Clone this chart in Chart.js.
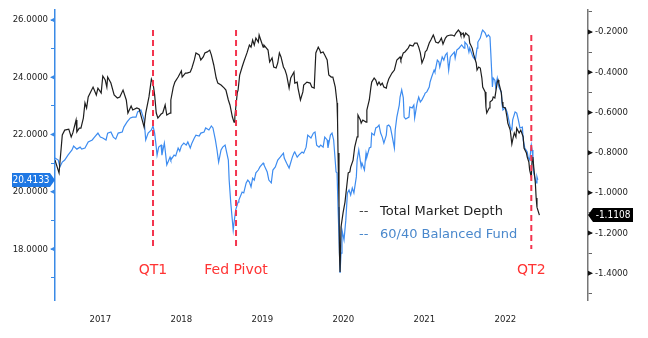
<!DOCTYPE html>
<html>
<head>
<meta charset="utf-8">
<script src="https://cdn.jsdelivr.net/npm/chart.js@4.4.0/dist/chart.umd.min.js"></script>
<style>
  html, body { margin: 0; padding: 0; background: #fff; }
</style>
</head>
<body>
<canvas id="mychart" width="648" height="338"></canvas>
<script>
// Total Market Depth (right axis)
let depthDates = [
  2016.64,2016.69,2016.73,2016.76,2016.81,2016.84,2016.86,2016.90,2016.91,2016.94,
  2016.96,2016.99,2017.01,2017.03,2017.05,2017.08,2017.11,2017.15,2017.17,2017.21,
  2017.23,2017.26,2017.28,2017.29,2017.33,2017.37,2017.41,2017.44,2017.48,2017.52,
  2017.54,2017.58,2017.60,2017.65,2017.68,2017.70,2017.74,2017.76,2017.80,2017.83,
  2017.85,2017.87,2017.89,2017.91,2017.95,2017.97,2018.00,2018.02,2018.06,2018.07,
  2018.10,2018.12,2018.16,2018.20,2018.21,2018.25,2018.27,2018.31,2018.33,2018.36,
  2018.38,2018.42,2018.44,2018.47,2018.49,2018.52,2018.55,2018.57,2018.60,2018.63,
  2018.65,2018.69,2018.73,2018.75,2018.78,2018.80,2018.83,2018.85,2018.86,2018.89,
  2018.90,2018.92,2018.95,2018.97,2019.01,2019.04,2019.06,2019.08,2019.10,2019.12,
  2019.15,2019.16,2019.18,2019.21,2019.22,2019.27,2019.29,2019.32,2019.34,2019.37,
  2019.39,2019.41,2019.43,2019.46,2019.48,2019.50,2019.53,2019.55,2019.59,2019.60,
  2019.63,2019.64,2019.67,2019.70,2019.71,2019.75,2019.79,2019.81,2019.84,2019.86,
  2019.89,2019.91,2019.92,2019.95,2019.97,2020.00,2020.02,2020.05,2020.07,2020.10,
  2020.122,2020.128,2020.134,2020.146,2020.152,2020.159,2020.171,2020.196,2020.22,2020.25,
  2020.26,2020.28,2020.29,2020.32,2020.34,2020.37,2020.38,2020.41,2020.42,2020.44,
  2020.48,2020.49,2020.52,2020.54,2020.55,2020.58,2020.60,2020.62,2020.64,2020.66,
  2020.68,2020.70,2020.73,2020.74,2020.76,2020.80,2020.83,2020.86,2020.90,2020.91,
  2020.94,2020.96,2021.00,2021.02,2021.06,2021.08,2021.11,2021.13,2021.15,2021.17,
  2021.20,2021.21,2021.23,2021.26,2021.28,2021.31,2021.32,2021.34,2021.37,2021.39,
  2021.41,2021.43,2021.46,2021.48,2021.52,2021.54,2021.57,2021.59,2021.62,2021.64,
  2021.65,2021.68,2021.69,2021.71,2021.75,2021.76,2021.79,2021.81,2021.84,2021.85,
  2021.87,2021.89,2021.91,2021.92,2021.95,2021.96,2021.97,2022.00,2022.01,2022.04,
  2022.05,2022.07,2022.10,2022.11,2022.12,2022.15,2022.16,2022.17,2022.20,2022.22,
  2022.23,2022.26,2022.28,2022.29,2022.31,2022.33,2022.34,2022.37,2022.39,2022.42,
  2022.43,2022.46,2022.47,2022.49,2022.50,2022.52,2022.53,2022.54,2022.55,2022.57,
  2022.58,2022.59,2022.62
];
let depthValues = [
  -0.837,-0.901,-0.712,-0.688,-0.683,-0.722,-0.702,-0.638,-0.697,-0.678,
  -0.678,-0.628,-0.553,-0.578,-0.523,-0.498,-0.474,-0.513,-0.479,-0.503,
  -0.419,-0.439,-0.474,-0.424,-0.454,-0.513,-0.528,-0.523,-0.489,-0.538,
  -0.603,-0.568,-0.588,-0.578,-0.583,-0.613,-0.673,-0.603,-0.523,-0.434,
  -0.454,-0.513,-0.603,-0.628,-0.608,-0.603,-0.563,-0.613,-0.603,-0.538,
  -0.474,-0.449,-0.424,-0.394,-0.424,-0.404,-0.404,-0.399,-0.379,-0.339,
  -0.304,-0.314,-0.339,-0.324,-0.304,-0.299,-0.290,-0.314,-0.364,-0.429,
  -0.454,-0.464,-0.479,-0.489,-0.538,-0.563,-0.623,-0.648,-0.623,-0.503,
  -0.489,-0.414,-0.374,-0.349,-0.304,-0.265,-0.275,-0.240,-0.265,-0.230,
  -0.250,-0.215,-0.240,-0.275,-0.265,-0.290,-0.349,-0.329,-0.374,-0.379,
  -0.354,-0.304,-0.324,-0.374,-0.389,-0.414,-0.479,-0.429,-0.399,-0.454,
  -0.449,-0.479,-0.538,-0.498,-0.464,-0.449,-0.454,-0.474,-0.479,-0.304,
  -0.275,-0.290,-0.304,-0.299,-0.314,-0.339,-0.414,-0.424,-0.424,-0.474,
  -0.553,-0.638,-0.802,-1.051,-1.300,-1.394,-1.170,-1.100,-1.046,-0.936,
  -0.901,-0.896,-0.872,-0.837,-0.772,-0.722,-0.613,-0.638,-0.653,-0.638,
  -0.648,-0.588,-0.538,-0.474,-0.449,-0.429,-0.439,-0.464,-0.449,-0.464,
  -0.454,-0.474,-0.479,-0.459,-0.434,-0.404,-0.389,-0.339,-0.324,-0.339,
  -0.304,-0.299,-0.280,-0.265,-0.270,-0.255,-0.255,-0.275,-0.304,-0.354,
  -0.324,-0.299,-0.290,-0.255,-0.240,-0.215,-0.225,-0.250,-0.255,-0.245,
  -0.230,-0.260,-0.230,-0.220,-0.215,-0.215,-0.220,-0.205,-0.190,-0.200,
  -0.215,-0.205,-0.225,-0.205,-0.220,-0.255,-0.280,-0.314,-0.354,-0.389,
  -0.374,-0.379,-0.429,-0.474,-0.498,-0.573,-0.603,-0.578,-0.548,-0.538,
  -0.523,-0.528,-0.449,-0.439,-0.454,-0.503,-0.548,-0.573,-0.578,-0.623,
  -0.653,-0.688,-0.757,-0.737,-0.702,-0.722,-0.678,-0.702,-0.688,-0.722,
  -0.777,-0.802,-0.822,-0.847,-0.887,-0.921,-0.837,-0.822,-0.872,-0.951,
  -1.026,-1.071,-1.1108
];

// 60/40 Balanced Fund (left axis)
let fundDates = [
  2016.64,2016.68,2016.70,2016.73,2016.76,2016.80,2016.85,2016.87,2016.91,2016.95,
  2016.97,2017.01,2017.05,2017.10,2017.12,2017.17,2017.20,2017.23,2017.27,2017.29,
  2017.33,2017.36,2017.39,2017.42,2017.47,2017.49,2017.53,2017.57,2017.60,2017.64,
  2017.66,2017.70,2017.74,2017.76,2017.79,2017.83,2017.85,2017.87,2017.89,2017.90,
  2017.92,2017.95,2017.96,2017.99,2018.00,2018.02,2018.06,2018.07,2018.11,2018.13,
  2018.16,2018.18,2018.20,2018.23,2018.26,2018.28,2018.31,2018.33,2018.36,2018.38,
  2018.42,2018.44,2018.48,2018.50,2018.54,2018.57,2018.59,2018.62,2018.64,2018.66,
  2018.69,2018.71,2018.74,2018.78,2018.79,2018.81,2018.84,2018.85,2018.87,2018.90,
  2018.91,2018.95,2018.97,2019.00,2019.02,2019.04,2019.06,2019.08,2019.10,2019.12,
  2019.15,2019.17,2019.21,2019.22,2019.26,2019.28,2019.31,2019.33,2019.36,2019.39,
  2019.42,2019.46,2019.47,2019.50,2019.53,2019.57,2019.59,2019.60,2019.63,2019.65,
  2019.69,2019.71,2019.74,2019.76,2019.80,2019.83,2019.85,2019.87,2019.90,2019.92,
  2019.95,2019.97,2020.00,2020.01,2020.04,2020.06,2020.08,2020.11,2020.122,2020.134,
  2020.146,2020.159,2020.171,2020.183,2020.208,2020.23,2020.25,2020.27,2020.29,2020.31,
  2020.33,2020.36,2020.37,2020.39,2020.42,2020.43,2020.46,2020.48,2020.49,2020.52,
  2020.54,2020.55,2020.58,2020.60,2020.62,2020.64,2020.66,2020.68,2020.70,2020.73,
  2020.74,2020.76,2020.78,2020.80,2020.83,2020.84,2020.86,2020.89,2020.90,2020.92,
  2020.94,2020.95,2020.97,2021.01,2021.02,2021.05,2021.07,2021.08,2021.11,2021.13,
  2021.15,2021.17,2021.20,2021.21,2021.23,2021.26,2021.27,2021.29,2021.32,2021.33,
  2021.36,2021.38,2021.39,2021.42,2021.44,2021.46,2021.48,2021.50,2021.52,2021.54,
  2021.57,2021.58,2021.60,2021.63,2021.64,2021.66,2021.69,2021.70,2021.73,2021.75,
  2021.76,2021.80,2021.83,2021.85,2021.86,2021.89,2021.91,2021.92,2021.95,2021.97,
  2021.99,2022.01,2022.02,2022.04,2022.05,2022.07,2022.08,2022.10,2022.12,2022.15,
  2022.16,2022.17,2022.20,2022.22,2022.23,2022.26,2022.28,2022.29,2022.32,2022.34,
  2022.36,2022.38,2022.41,2022.42,2022.44,2022.47,2022.48,2022.50,2022.52,2022.53,
  2022.54,2022.55,2022.58,2022.59,2022.60
];
let fundValues = [
  21.18,21.11,20.87,21.04,21.11,21.28,21.46,21.60,21.49,21.56,
  21.49,21.53,21.74,21.81,21.88,22.05,21.91,21.88,21.81,22.05,
  22.09,21.91,21.84,22.05,22.09,22.26,22.44,22.58,22.61,22.61,
  22.79,22.86,22.51,21.81,22.05,22.16,22.30,22.05,21.56,21.28,
  21.56,21.63,21.28,21.70,21.46,20.94,21.21,21.11,21.28,21.25,
  21.53,21.42,21.60,21.70,21.63,21.74,21.53,21.70,21.88,21.98,
  21.95,22.05,22.09,22.23,22.16,22.30,22.23,21.81,21.46,21.04,
  21.46,21.56,21.63,21.11,20.41,19.61,18.66,18.91,19.36,19.64,
  19.71,19.99,19.96,20.31,20.41,20.34,20.17,20.48,20.41,20.66,
  20.76,20.87,21.00,20.94,20.69,20.41,20.31,20.76,20.87,21.11,
  21.21,21.35,21.18,21.00,20.83,21.21,21.35,21.39,21.21,21.28,
  21.39,21.35,21.56,21.98,21.88,22.05,22.09,21.63,21.56,21.63,
  21.56,21.91,21.81,21.53,21.98,22.05,21.81,20.69,20.66,19.47,
  18.42,17.16,17.86,18.66,18.32,19.01,19.96,20.06,19.89,20.13,
  19.96,20.52,21.11,21.46,20.87,21.00,20.76,21.35,21.21,21.53,
  21.56,22.05,21.98,22.23,22.26,22.33,22.05,21.91,21.70,21.98,
  22.30,22.33,22.26,21.98,21.53,22.16,22.61,23.03,23.31,23.56,
  23.28,22.61,22.54,22.61,22.96,22.93,23.03,22.58,23.10,23.31,
  23.14,23.21,23.38,23.45,23.49,23.66,23.83,24.01,24.25,24.18,
  24.60,24.53,24.36,24.71,24.60,24.78,24.85,24.25,24.71,24.78,
  24.88,24.67,24.95,25.02,25.06,25.13,25.02,25.23,25.13,24.88,
  25.02,24.71,24.60,25.02,25.23,25.37,25.58,25.65,25.55,25.41,
  25.48,25.41,24.85,23.66,23.97,23.90,23.66,23.97,23.66,23.49,
  23.03,22.86,22.93,22.79,22.68,22.26,22.16,22.51,22.79,22.75,
  22.51,22.23,22.26,21.81,21.53,21.39,21.21,21.11,21.63,21.46,
  21.11,20.66,20.31,20.52,20.4133
];

// events (vertical dashed markers, left-axis extents)
let eventNames = ['QT1', 'Fed Pivot', 'QT2'];
let eventDates = [2017.85, 2018.875, 2022.52];
let eventTop = [25.65, 25.65, 25.48];
let eventBottom = [18.07, 18.07, 18.00];

// ticks
let yearTicks = [2017.2, 2018.2, 2019.2, 2020.2, 2021.2, 2022.2];
let yearLabels = ['2017', '2018', '2019', '2020', '2021', '2022'];
let leftTicks = [17, 18, 19, 20, 21, 22, 23, 24, 25, 26];
let rightTicks = [-1.5, -1.4, -1.3, -1.2, -1.1, -1.0, -0.9, -0.8, -0.7, -0.6, -0.5, -0.4, -0.3, -0.2, -0.1];

const BLUE = '#3d8cf0';
const AXIS_BLUE = '#3a8ae6';
const BLACK = '#1e1e1e';
const RED = '#f3344e';
const TICK_FONT = { family: '"DejaVu Sans Condensed", "Liberation Sans", sans-serif', size: 9.5 };

function pts(xs, ys) {
  return xs.map((x, i) => ({ x: x, y: ys[i] }));
}

function isMajorLeft(v) { return Math.round(v) % 2 === 0; }
function isMajorRight(v) { return Math.round(v * 10) % 2 === 0; }

let datasets = [
  {
    label: 'Total Market Depth',
    data: pts(depthDates, depthValues),
    yAxisID: 'yR',
    borderColor: BLACK,
    borderWidth: 1.2,
    pointRadius: 0,
    tension: 0,
    order: 1
  },
  {
    label: '60/40 Balanced Fund',
    data: pts(fundDates, fundValues),
    yAxisID: 'yL',
    borderColor: BLUE,
    borderWidth: 1.2,
    pointRadius: 0,
    tension: 0,
    order: 2
  }
];
eventNames.forEach((n, i) => {
  datasets.push({
    label: n,
    data: [{ x: eventDates[i], y: eventTop[i] }, { x: eventDates[i], y: eventBottom[i] }],
    yAxisID: 'yL',
    borderColor: RED,
    borderWidth: 2,
    borderDash: [6, 4],
    pointRadius: 0,
    order: 0
  });
});

function tri(c, x, y, dir) {
  c.beginPath();
  c.moveTo(x, y - 2.5);
  c.lineTo(x, y + 2.5);
  c.lineTo(x + dir * 5, y);
  c.closePath();
  c.fill();
}

const extras = {
  id: 'extras',
  afterDraw(chart) {
    const c = chart.ctx;
    const x = chart.scales.x, yL = chart.scales.yL, yR = chart.scales.yR;
    const a = chart.chartArea;
    c.save();

    // event labels
    c.font = '14px "DejaVu Sans", sans-serif';
    c.fillStyle = '#ff3333';
    c.textAlign = 'center';
    c.textBaseline = 'middle';
    eventNames.forEach((n, i) => c.fillText(n, x.getPixelForValue(eventDates[i]), 270));

    // legend
    c.font = '13px "DejaVu Sans", sans-serif';
    c.textAlign = 'left';
    c.fillStyle = '#444';
    c.fillText('--', 359, 212);
    c.fillStyle = BLACK;
    c.fillText(datasets[0].label, 380, 212);
    c.fillStyle = '#4a88cc';
    c.fillText('--', 359, 235);
    c.fillText(datasets[1].label, 380, 235);

    // major tick arrows
    c.fillStyle = AXIS_BLUE;
    yL.ticks.forEach(t => { if (isMajorLeft(t.value)) tri(c, a.left, yL.getPixelForValue(t.value), -1); });
    c.fillStyle = '#111';
    yR.ticks.forEach(t => { if (isMajorRight(t.value)) tri(c, a.right, yR.getPixelForValue(t.value), 1); });

    // last value boxes
    c.font = '10px "DejaVu Sans Condensed", "Liberation Sans", sans-serif';
    c.textAlign = 'center';
    const lastF = fundValues[fundValues.length - 1];
    let py = yL.getPixelForValue(lastF);
    c.fillStyle = '#1f78e4';
    c.beginPath();
    c.moveTo(12, py - 7); c.lineTo(50, py - 7); c.lineTo(a.left, py);
    c.lineTo(50, py + 7); c.lineTo(12, py + 7); c.closePath();
    c.fill();
    c.fillStyle = '#fff';
    c.fillText(lastF.toFixed(4), 31, py + 0.5);

    const lastD = depthValues[depthValues.length - 1];
    py = yR.getPixelForValue(lastD);
    c.fillStyle = '#000';
    c.beginPath();
    c.moveTo(a.right, py); c.lineTo(593, py - 7); c.lineTo(633, py - 7);
    c.lineTo(633, py + 7); c.lineTo(593, py + 7); c.closePath();
    c.fill();
    c.fillStyle = '#fff';
    c.fillText(lastD.toFixed(4), 613, py + 0.5);

    c.restore();
  }
};

let ctx = document.getElementById('mychart');
let chart = new Chart(ctx, {
  type: 'line',
  data: { datasets: datasets },
  options: {
    responsive: false,
    animation: false,
    devicePixelRatio: 1,
    layout: { padding: { top: 10, left: 0, right: 0, bottom: 0 } },
    plugins: { legend: { display: false }, tooltip: { enabled: false } },
    scales: {
      x: {
        type: 'linear',
        min: 2016.64,
        max: 2023.22,
        afterBuildTicks: s => { s.ticks = yearTicks.map(v => ({ value: v })); },
        ticks: {
          autoSkip: false, maxRotation: 0, padding: 14, color: '#222', font: TICK_FONT,
          callback: (v, i) => yearLabels[i]
        },
        grid: { display: false, drawTicks: false },
        border: { display: false },
        afterFit: s => { s.height = 38; }
      },
      yL: {
        type: 'linear',
        position: 'left',
        min: 16.22,
        max: 26.35,
        afterBuildTicks: s => { s.ticks = leftTicks.map(v => ({ value: v })); },
        ticks: {
          autoSkip: false, padding: 3, color: '#222', font: TICK_FONT,
          callback: v => isMajorLeft(v) ? v.toFixed(4) : ''
        },
        grid: { drawOnChartArea: false, tickLength: 4, tickColor: AXIS_BLUE, tickWidth: 1 },
        border: { color: AXIS_BLUE, width: 1.5 },
        afterFit: s => { s.width = 55; }
      },
      yR: {
        type: 'linear',
        position: 'right',
        min: -1.533,
        max: -0.0905,
        afterBuildTicks: s => { s.ticks = rightTicks.map(v => ({ value: v })); },
        ticks: {
          autoSkip: false, padding: 3, color: '#222', font: TICK_FONT,
          callback: v => isMajorRight(v) ? v.toFixed(4) : ''
        },
        grid: { drawOnChartArea: false, tickLength: 4, tickColor: '#666', tickWidth: 1 },
        border: { color: '#777', width: 1.5 },
        afterFit: s => { s.width = 60; }
      }
    }
  },
  plugins: [extras]
});
</script>
</body>
</html>
